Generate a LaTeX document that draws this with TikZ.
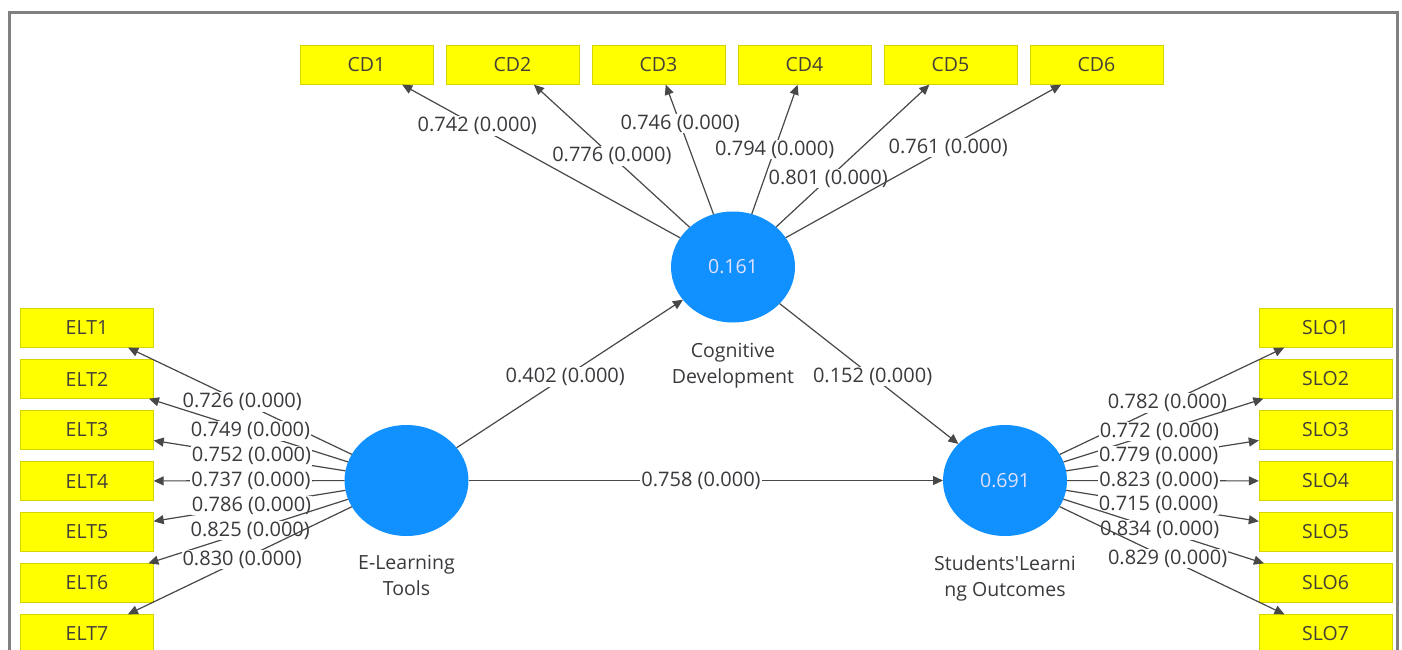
\documentclass[tikz,border=0pt]{standalone}
\usepackage{fontspec}
\setmainfont{Open Sans}
\usetikzlibrary{arrows.meta,shapes.geometric}
\definecolor{plsblue}{RGB}{17,145,255}
\definecolor{plsyellow}{RGB}{255,255,0}
\definecolor{plsedge}{RGB}{212,212,0}
\definecolor{plsline}{RGB}{72,72,72}
\definecolor{plstext}{RGB}{58,58,62}
\definecolor{plsframe}{RGB}{128,128,128}

\begin{document}
\begin{tikzpicture}[x=1pt, y=-1pt,
  ind/.style={draw=plsedge, fill=plsyellow, minimum width=133pt,
    minimum height=39pt, inner sep=0pt, text=black!85!yellow,
    font=\fontsize{19.5}{22}\selectfont},
  lv/.style={ellipse, fill=plsblue, minimum width=124pt,
    minimum height=111pt, inner sep=0pt, outer sep=0pt,
    text=white!88!blue, font=\fontsize{19.5}{22}\selectfont},
  lvname/.style={align=center, text=plstext, inner sep=1pt,
    font=\fontsize{19.5}{26}\selectfont},
  load/.style={draw=plsline, line width=1.2pt,
    -{Triangle[length=10pt, width=9pt]}},
  val/.style={fill=white, inner sep=1pt, text=plstext,
    font=\fontsize{20}{22}\selectfont}]
\path[use as bounding box, fill=white] (0,0) rectangle (1402,650);
\draw[plsframe, line width=3pt] (9,655) -- (9,13) -- (1397,13) -- (1397,655);

\node[lv, label={[lvname, label distance=19pt]below:Cognitive\\Development}]
  (CD) at (733,267) {0.161};
\node[lv, label={[lvname, label distance=18pt]below:E-Learning\\Tools}]
  (ELT) at (406.5,480.5) {};
\node[lv, label={[lvname, label distance=18pt]below:Students\textquotesingle Learni\\ng Outcomes}]
  (SLO) at (1005,480.5) {0.691};

\foreach \i in {1,...,6}
  \node[ind] (cd\i) at ({220.5+146*\i},65) {CD\i};
\foreach \i in {1,...,7} {
  \node[ind] (elt\i) at (87,{277+51*\i}) {ELT\i};
  \node[ind] (slo\i) at (1325.5,{277+51*\i}) {SLO\i};
}

\foreach \i/\v/\p in {1/0.742/0.73, 2/0.776/0.5, 3/0.746/0.7,
    4/0.794/0.5, 5/0.801/0.34, 6/0.761/0.59}
  \draw[load] (CD) -- node[val, pos=\p] {\v{} (0.000)} (cd\i);
\foreach \i/\v in {1/0.726, 2/0.749, 3/0.752, 4/0.737, 5/0.786,
    6/0.825, 7/0.830}
  \draw[load] (ELT) -- node[val, pos=0.49] {\v{} (0.000)} (elt\i);
\foreach \i/\v in {1/0.782, 2/0.772, 3/0.779, 4/0.823, 5/0.715,
    6/0.834, 7/0.829}
  \draw[load] (SLO) -- node[val, pos=0.48] {\v{} (0.000)} (slo\i);

\draw[load] (ELT) -- node[val, pos=0.48] {0.402 (0.000)} (CD);
\draw[load] (CD) -- node[val, pos=0.52] {0.152 (0.000)} (SLO);
\draw[load] (ELT) -- node[val, pos=0.49] {0.758 (0.000)} (SLO);
\end{tikzpicture}
\end{document}
